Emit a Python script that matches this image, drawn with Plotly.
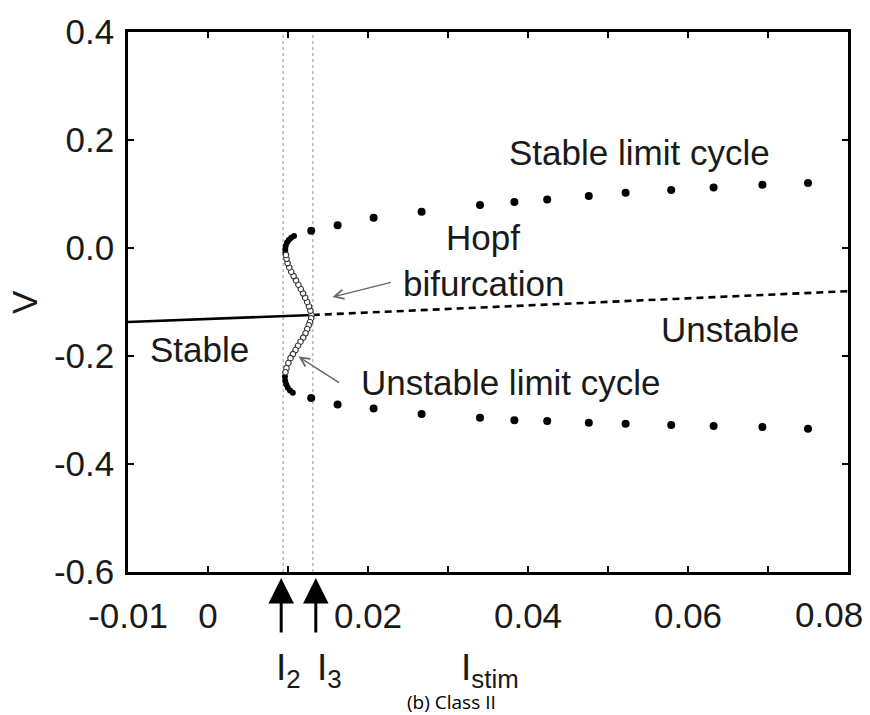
import plotly.graph_objects as go

# ---------------- data ----------------
I2 = 0.0094   # fold of limit cycles
I3 = 0.0131   # Hopf bifurcation

stable_x = [-0.01, 0.0131]
stable_y = [-0.137, -0.124]
unstable_x = [0.0131, 0.08]
unstable_y = [-0.124, -0.080]

# stable limit cycle (sparse filled dots)
lc_x = [0.0129, 0.0162, 0.0207, 0.0267, 0.0340, 0.0383, 0.0424,
        0.0476, 0.0522, 0.0579, 0.0632, 0.0693, 0.0750]
lc_upper = [0.0318, 0.0421, 0.0562, 0.0673, 0.0796, 0.0851, 0.0899,
            0.0961, 0.1022, 0.1072, 0.1121, 0.1169, 0.1206]
lc_lower = [-0.2777, -0.2899, -0.2973, -0.3072, -0.3145, -0.3188, -0.3206,
            -0.3237, -0.3255, -0.3279, -0.3298, -0.3316, -0.3347]

# stable limit cycle near the fold (dense filled dots)
fold_up_x = [0.00968, 0.00966, 0.00972, 0.00988, 0.01010, 0.01040, 0.01075]
fold_up_y = [-0.010, -0.003, 0.004, 0.010, 0.015, 0.019, 0.022]
fold_lo_x = [0.00962, 0.00965, 0.00978, 0.00998, 0.01025, 0.01060]
fold_lo_y = [-0.238, -0.246, -0.253, -0.259, -0.264, -0.268]

# unstable limit cycle (open circles)
ulc_up_x = [0.01294, 0.01280, 0.01262, 0.01240, 0.01215, 0.01188, 0.01160,
            0.01130, 0.01100, 0.01070, 0.01040, 0.01015, 0.00995, 0.00982, 0.00975]
ulc_up_y = [-0.124, -0.116, -0.108, -0.100, -0.092, -0.084, -0.076,
            -0.068, -0.060, -0.052, -0.044, -0.036, -0.028, -0.020, -0.013]
ulc_lo_x = [0.01290, 0.01275, 0.01260, 0.01240, 0.01219, 0.01190, 0.01156,
            0.01125, 0.01094, 0.01062, 0.01031, 0.01005, 0.00981, 0.00968]
ulc_lo_y = [-0.130, -0.137, -0.143, -0.150, -0.158, -0.166, -0.1735,
            -0.181, -0.189, -0.1965, -0.204, -0.213, -0.2226, -0.230]

x_tickvals = [-0.01, 0.0, 0.01, 0.02, 0.03, 0.04, 0.05, 0.06, 0.07, 0.08]
x_ticktext = ["-0.01", "0", "", "0.02", "", "0.04", "", "0.06", "", ""]
y_tickvals = [-0.6, -0.4, -0.2, 0.0, 0.2, 0.4]
y_ticktext = ["-0.6", "-0.4", "-0.2", "0.0", "0.2", "0.4"]

FONT = "Liberation Sans, Arial, sans-serif"
FS = 35
TXT = "#1a1a1a"

fig = go.Figure()

fig.add_vline(x=I2, line=dict(color="#bdbdbd", width=1.6, dash="dot"), layer="below")
fig.add_vline(x=I3, line=dict(color="#bdbdbd", width=1.6, dash="dot"), layer="below")

fig.add_trace(go.Scatter(x=stable_x, y=stable_y, mode="lines",
                         line=dict(color="black", width=2.6), hoverinfo="skip"))
fig.add_trace(go.Scatter(x=unstable_x, y=unstable_y, mode="lines",
                         line=dict(color="black", width=2.6, dash="7px,5px"), hoverinfo="skip"))
for ys in (lc_upper, lc_lower):
    fig.add_trace(go.Scatter(x=lc_x, y=ys, mode="markers",
                             marker=dict(color="black", size=8, line=dict(width=0))))
for xs, ys in ((fold_up_x, fold_up_y), (fold_lo_x, fold_lo_y)):
    fig.add_trace(go.Scatter(x=xs, y=ys, mode="markers",
                             marker=dict(color="black", size=6, line=dict(width=0))))
for xs, ys in ((ulc_up_x, ulc_up_y), (ulc_lo_x, ulc_lo_y)):
    fig.add_trace(go.Scatter(x=xs, y=ys, mode="markers",
                             marker=dict(color="white", size=5.5,
                                         line=dict(color="#333333", width=1.1))))

def txt(x, y, s, **kw):
    d = dict(x=x, y=y, text=s, showarrow=False, xref="x", yref="y",
             font=dict(family=FONT, size=FS, color=TXT),
             xanchor="center", yanchor="middle")
    d.update(kw)
    fig.add_annotation(**d)

txt(0.0539, 0.1767, "Stable limit cycle")
txt(0.0344, 0.0186, "Hopf")
txt(0.0344, -0.066, "bifurcation")
txt(0.0653, -0.1506, "Unstable")
txt(0.0379, -0.2498, "Unstable limit cycle")
txt(-0.00106, -0.188, "Stable")

# thin grey pointer arrows
fig.add_annotation(x=0.01556, y=-0.0908, xref="x", yref="y", text="",
                   showarrow=True, arrowhead=5, arrowsize=1.3, arrowwidth=1.4,
                   arrowcolor="#666666", ax=60, ay=-15, standoff=0)
fig.add_annotation(x=0.01131, y=-0.2011, xref="x", yref="y", text="",
                   showarrow=True, arrowhead=5, arrowsize=1.3, arrowwidth=1.4,
                   arrowcolor="#666666", ax=42, ay=27, standoff=0)

# big black arrows marking I2 and I3 under the axis
for xv, sh in ((I2, -2), (I3, 3)):
    fig.add_annotation(x=xv, y=0, xref="x", yref="paper", text="",
                       showarrow=True, arrowhead=2, arrowsize=1.7, arrowwidth=3,
                       arrowcolor="black", ax=0, ay=56, standoff=0, xshift=sh,
                       yshift=-6)

# labels below the axis
lab_font = dict(family=FONT, size=FS, color=TXT)
IFONT = dict(family=FONT, size=37, color=TXT)
fig.add_annotation(x=I2, y=-0.182, xref="x", yref="paper", text="I<sub>2</sub>",
                   showarrow=False, font=IFONT, xshift=5, yanchor="middle",
                   xanchor="center")
fig.add_annotation(x=I3, y=-0.182, xref="x", yref="paper", text="I<sub>3</sub>",
                   showarrow=False, font=IFONT, xshift=17, yanchor="middle",
                   xanchor="center")
fig.add_annotation(x=0.0353, y=-0.182, xref="x", yref="paper", text="I<sub>stim</sub>",
                   showarrow=False, font=IFONT, yanchor="middle", xanchor="center")
fig.add_annotation(x=0.08, y=0, xref="x", yref="paper", text="0.08",
                   showarrow=False, font=lab_font, xanchor="right",
                   yanchor="middle", xshift=17, yshift=-42)
fig.add_annotation(x=0.449, y=-0.2405, xref="paper", yref="paper", text="(b) Class II",
                   showarrow=False, xanchor="center", yanchor="middle",
                   font=dict(family="Open Sans", size=19, color="black"))
fig.add_annotation(x=-0.1444, y=0.5, xref="paper", yref="paper", text="V",
                   textangle=-90, showarrow=False, font=lab_font,
                   xanchor="center", yanchor="middle")

axis_common = dict(showline=True, linecolor="black", linewidth=2.6, mirror="allticks",
                   ticks="inside", ticklen=6, tickwidth=2.4, tickcolor="black",
                   showgrid=False, zeroline=False,
                   tickfont=dict(family=FONT, size=FS, color=TXT))

fig.update_xaxes(range=[-0.01, 0.08], tickmode="array", tickvals=x_tickvals,
                 ticktext=x_ticktext, ticklabelstandoff=11, **axis_common)
fig.update_yaxes(range=[-0.6, 0.4], tickmode="array", tickvals=y_tickvals,
                 ticktext=y_ticktext, ticklabelstandoff=4, **axis_common)

fig.update_layout(width=870, height=715, showlegend=False,
                  margin=dict(l=128, r=22, t=28, b=143),
                  paper_bgcolor="white", plot_bgcolor="white")

fig.write_html("out.html")
